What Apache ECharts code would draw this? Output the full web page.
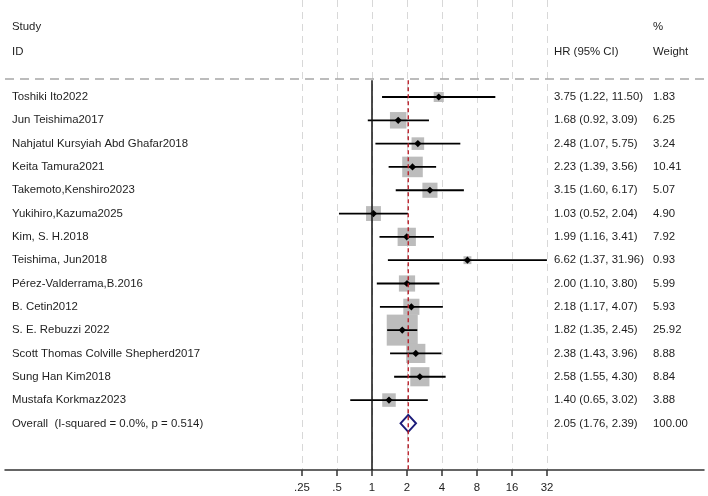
<!DOCTYPE html>
<html>
<head>
<meta charset="utf-8">
<script src="https://cdn.jsdelivr.net/npm/echarts@6/dist/echarts.min.js"></script>
<style>
  html, body { margin: 0; padding: 0; background: #fff; }
  #chart { width: 708px; height: 496px; }
</style>
</head>
<body>
<div id="chart"></div>
<script>
// study data (HR and 95% CI, weight %)
var studies = [
  'Toshiki Ito2022', 'Jun Teishima2017', 'Nahjatul Kursyiah Abd Ghafar2018',
  'Keita Tamura2021', 'Takemoto,Kenshiro2023', 'Yukihiro,Kazuma2025',
  'Kim, S. H.2018', 'Teishima, Jun2018', 'Pérez-Valderrama,B.2016',
  'B. Cetin2012', 'S. E. Rebuzzi 2022', 'Scott Thomas Colville Shepherd2017',
  'Sung Han Kim2018', 'Mustafa Korkmaz2023'
];
var hr     = [3.75, 1.68, 2.48, 2.23, 3.15, 1.03, 1.99, 6.62, 2.00, 2.18, 1.82, 2.38, 2.58, 1.40];
var ciLow  = [1.22, 0.92, 1.07, 1.39, 1.60, 0.52, 1.16, 1.37, 1.10, 1.17, 1.35, 1.43, 1.55, 0.65];
var ciHigh = [11.50, 3.09, 5.75, 3.56, 6.17, 2.04, 3.41, 31.96, 3.80, 4.07, 2.45, 3.96, 4.30, 3.02];
var weights = [1.83, 6.25, 3.24, 10.41, 5.07, 4.90, 7.92, 0.93, 5.99, 5.93, 25.92, 8.88, 8.84, 3.88];

var overallLabel = 'Overall  (I-squared = 0.0%, p = 0.514)';
var overallHR = 2.05;
var overallLow = 1.76;
var overallHigh = 2.39;
var overallWeight = 100.00;

var nullValue = 1;
var tickValues = [0.25, 0.5, 1, 2, 4, 8, 16, 32];
var tickLabels = ['.25', '.5', '1', '2', '4', '8', '16', '32'];

var FONT = 'Arial, "Liberation Sans", sans-serif';
var TXT = '#1e1e1e';
var Y_MIN = -4.16, Y_MAX = 16;   // row units (row 0 = first study)
var HEAD_LINE = -0.77;
var COL_ID = 12, COL_HR = 554, COL_W = 653;

var overallRow = studies.length;

// text cells
var textRows = [
  { x: COL_ID, row: -3, text: 'Study' },
  { x: COL_ID, row: -1.95, text: 'ID' },
  { x: COL_HR, row: -1.95, text: 'HR (95% CI)' },
  { x: COL_W, row: -3, text: '%' },
  { x: COL_W, row: -1.95, text: 'Weight' }
];
function ciText(e, l, h) {
  return e.toFixed(2) + ' (' + l.toFixed(2) + ', ' + h.toFixed(2) + ')';
}
studies.forEach(function (s, i) {
  textRows.push({ x: COL_ID, row: i, text: s });
  textRows.push({ x: COL_HR, row: i, text: ciText(hr[i], ciLow[i], ciHigh[i]) });
  textRows.push({ x: COL_W, row: i, text: weights[i].toFixed(2) });
});
textRows.push({ x: COL_ID, row: overallRow, text: overallLabel });
textRows.push({ x: COL_HR, row: overallRow, text: ciText(overallHR, overallLow, overallHigh) });
textRows.push({ x: COL_W, row: overallRow, text: overallWeight.toFixed(2) });

var studyData = studies.map(function (s, i) {
  return [hr[i], ciLow[i], ciHigh[i], i, weights[i]];
});

var chart = echarts.init(document.getElementById('chart'));
chart.setOption({
  animation: false,
  backgroundColor: '#fff',
  grid: [
    { left: 5, right: 4, top: 0, bottom: 26 },
    { left: 302, right: 161, top: 0, bottom: 26 }
  ],
  xAxis: [
    {
      gridIndex: 0, type: 'value', min: 5, max: 704,
      axisLine: { show: true, onZero: false, lineStyle: { color: '#333', width: 1.5 } },
      axisTick: { show: false }, axisLabel: { show: false }, splitLine: { show: false }
    },
    {
      gridIndex: 1, type: 'log', logBase: 2, min: 0.25, max: 32, splitNumber: 7,
      axisLine: { show: false, onZero: false },
      axisTick: { show: true, length: 6, lineStyle: { color: '#333', width: 1.5 } },
      axisLabel: {
        margin: 12, color: TXT, fontSize: 11.4, fontFamily: FONT,
        formatter: function (v) {
          for (var i = 0; i < tickValues.length; i++) {
            if (Math.abs(v - tickValues[i]) < 1e-6) return tickLabels[i];
          }
          return '';
        }
      },
      splitLine: { show: true, lineStyle: { color: '#d8d8d8', width: 1, type: [7, 5] } }
    }
  ],
  yAxis: [
    { gridIndex: 0, type: 'value', inverse: true, min: Y_MIN, max: Y_MAX, show: false },
    { gridIndex: 1, type: 'value', inverse: true, min: Y_MIN, max: Y_MAX, show: false }
  ],
  series: [
    {
      // header separator
      type: 'line', xAxisIndex: 0, yAxisIndex: 0, symbol: 'none',
      data: [[5, HEAD_LINE], [704, HEAD_LINE]],
      lineStyle: { color: '#a6a6a6', width: 1.5, type: [9, 6] }
    },
    {
      // line of no effect
      type: 'line', xAxisIndex: 1, yAxisIndex: 1, symbol: 'none',
      data: [[nullValue, HEAD_LINE + 0.05], [nullValue, Y_MAX]],
      lineStyle: { color: '#111', width: 1.5 }
    },
    {
      // overall estimate line
      type: 'line', xAxisIndex: 1, yAxisIndex: 1, symbol: 'none',
      data: [[overallHR, HEAD_LINE + 0.05], [overallHR, Y_MAX]],
      lineStyle: { color: '#b8202a', width: 1.4, type: [4, 3] }
    },
    {
      type: 'custom', xAxisIndex: 1, yAxisIndex: 1,
      data: studyData,
      renderItem: function (params, api) {
        var p = api.coord([api.value(0), api.value(3)]);
        var l = api.coord([api.value(1), api.value(3)]);
        var h = api.coord([api.value(2), api.value(3)]);
        var s = 2.5 + 5.6 * Math.sqrt(api.value(4));
        var d = 3.6;
        return {
          type: 'group',
          children: [
            { type: 'rect', shape: { x: p[0] - s / 2, y: p[1] - s / 2, width: s, height: s },
              style: { fill: '#bcbcbc' } },
            { type: 'line', shape: { x1: l[0], y1: l[1], x2: h[0], y2: h[1] },
              style: { stroke: '#000', lineWidth: 1.8 } },
            { type: 'polygon',
              shape: { points: [[p[0] - d, p[1]], [p[0], p[1] - d], [p[0] + d, p[1]], [p[0], p[1] + d]] },
              style: { fill: '#000' } }
          ]
        };
      }
    },
    {
      type: 'custom', xAxisIndex: 1, yAxisIndex: 1,
      data: [[overallHR, overallLow, overallHigh, overallRow]],
      renderItem: function (params, api) {
        var p = api.coord([api.value(0), api.value(3)]);
        var l = api.coord([api.value(1), api.value(3)]);
        var h = api.coord([api.value(2), api.value(3)]);
        var hh = 8.5;
        return {
          type: 'polygon',
          shape: { points: [[l[0], p[1]], [p[0], p[1] - hh], [h[0], p[1]], [p[0], p[1] + hh]] },
          style: { fill: '#fff', stroke: '#1c1c7a', lineWidth: 2 }
        };
      }
    },
    {
      type: 'custom', xAxisIndex: 0, yAxisIndex: 0,
      data: textRows.map(function (t) { return [t.x, t.row]; }),
      renderItem: function (params, api) {
        var p = api.coord([api.value(0), api.value(1)]);
        return {
          type: 'text',
          x: p[0], y: p[1],
          style: {
            text: textRows[params.dataIndex].text,
            fill: TXT, font: '11.4px ' + FONT,
            textAlign: 'left', textVerticalAlign: 'middle'
          }
        };
      }
    }
  ]
});
</script>
</body>
</html>
